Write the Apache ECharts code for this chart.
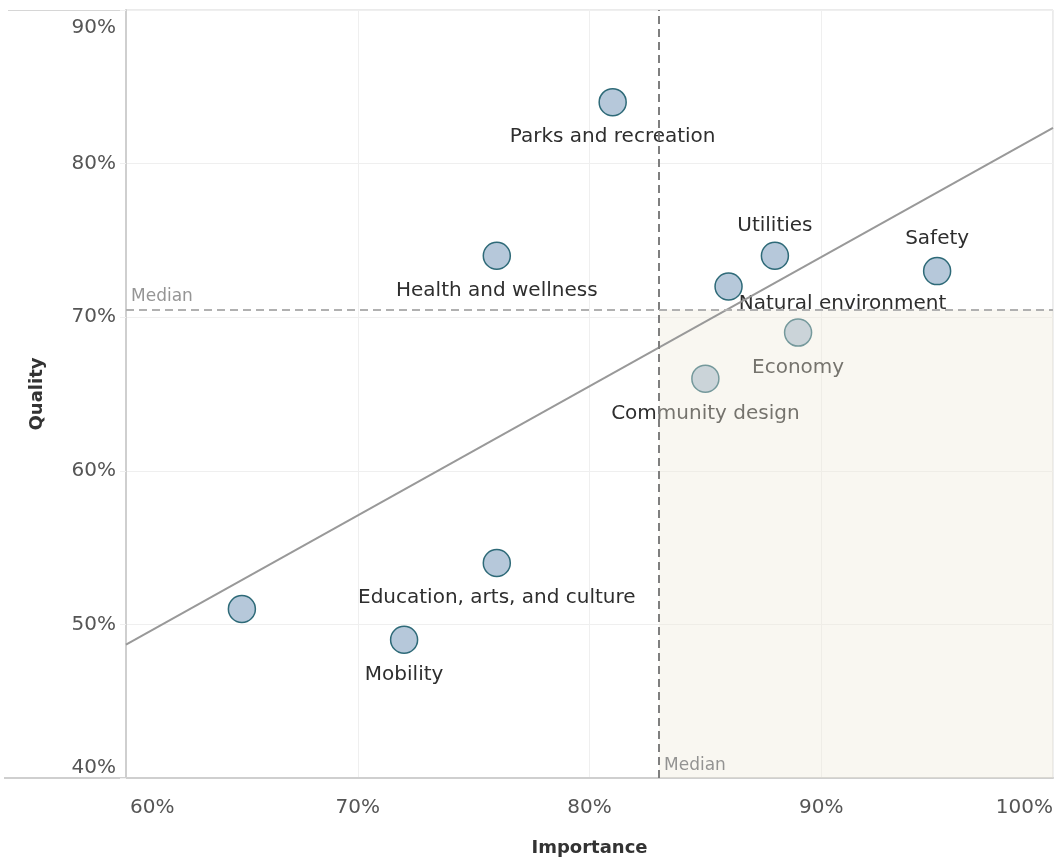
<!DOCTYPE html>
<html>
<head>
<meta charset="utf-8">
<script src="https://cdn.jsdelivr.net/npm/echarts@6/dist/echarts.min.js"></script>
<style>
  html, body { margin: 0; padding: 0; background: #fff; }
  #quadrant-chart { width: 1054px; height: 859px; }
</style>
</head>
<body>
<div id="quadrant-chart"></div>
<script>
  // topics (the first point has no label in the original)
  const topics = ['', 'Mobility', 'Education, arts, and culture', 'Health and wellness',
    'Parks and recreation', 'Community design', 'Natural environment', 'Utilities', 'Economy', 'Safety']
  const importance = [65, 72, 76, 76, 81, 85, 86, 88, 89, 95]
  const quality = [51, 49, 54, 74, 84, 66, 72, 74, 69, 73]
  const xTicks = [60, 70, 80, 90, 100]
  const yTicks = [40, 50, 60, 70, 80, 90]

  const FONT = '"DejaVu Sans", sans-serif'

  // label placement (style only)
  const labelOffset = {
    'Utilities': [0, -30],
    'Safety': [0, -32],
    'Natural environment': [114, 17]
  }

  function median(arr) {
    const s = arr.slice().sort((a, b) => a - b)
    const m = Math.floor(s.length / 2)
    return s.length % 2 ? s[m] : (s[m - 1] + s[m]) / 2
  }

  const medX = median(importance)
  const medY = median(quality)

  // least squares trend
  const n = importance.length
  const mx = importance.reduce((a, b) => a + b, 0) / n
  const my = quality.reduce((a, b) => a + b, 0) / n
  let sxy = 0, sxx = 0
  for (let i = 0; i < n; i++) {
    sxy += (importance[i] - mx) * (quality[i] - my)
    sxx += (importance[i] - mx) * (importance[i] - mx)
  }
  const slope = sxy / sxx
  const trend = x => my + slope * (x - mx)

  const xMin = xTicks[0], xMax = xTicks[xTicks.length - 1]
  const yMin = yTicks[0], yMax = yTicks[yTicks.length - 1]

  const points = topics.map((t, i) => ({
    name: t,
    value: [importance[i], quality[i]],
    label: {
      show: t !== '',
      position: 'inside',
      offset: labelOffset[t] || [0, 35]
    }
  }))

  const myChart = echarts.init(document.getElementById('quadrant-chart'))
  myChart.setOption({
    animation: false,
    textStyle: { fontFamily: FONT },
    grid: {
      left: 126, right: 1, top: 10, bottom: 81,
      outerBoundsMode: 'none',
      show: true, borderColor: '#d6d6d6', borderWidth: 1
    },
    xAxis: {
      type: 'value', min: xMin, max: xMax, interval: 10,
      name: 'Importance', nameLocation: 'middle', nameGap: 61,
      nameTextStyle: { fontFamily: FONT, fontSize: 18, fontWeight: 'bold', color: '#333' },
      axisLine: { show: true, lineStyle: { color: '#cfcfcf', width: 2 } },
      axisTick: { show: false },
      axisLabel: {
        formatter: v => v === xMin ? '{l|' + v + '%}' : v + '%',
        fontFamily: FONT, fontSize: 20, color: '#555', margin: 20,
        alignMinLabel: 'left', alignMaxLabel: 'right',
        rich: { l: { fontFamily: FONT, fontSize: 20, color: '#555', padding: [0, 0, 0, 4] } }
      },
      splitLine: { lineStyle: { color: '#efefef' } }
    },
    yAxis: {
      type: 'value', min: yMin, max: yMax, interval: 10,
      name: 'Quality', nameLocation: 'middle', nameGap: 80, nameRotate: 90,
      nameTextStyle: { fontFamily: FONT, fontSize: 18, fontWeight: 'bold', color: '#333' },
      axisLine: { show: true, lineStyle: { color: '#cfcfcf', width: 2 } },
      axisTick: { show: true, length: 6, lineStyle: { color: '#efefef' } },
      axisLabel: {
        formatter: v => v === yMax ? '{t|' + v + '%}' : v + '%',
        fontFamily: FONT, fontSize: 20, color: '#555', margin: 10,
        verticalAlignMinLabel: 'bottom', verticalAlignMaxLabel: 'top',
        rich: { t: { fontFamily: FONT, fontSize: 20, color: '#555', padding: [8, 0, 0, 0] } }
      },
      splitLine: { lineStyle: { color: '#efefef' } }
    },
    graphic: [
      { type: 'line', shape: { x1: 8, y1: 10.5, x2: 126, y2: 10.5 }, style: { stroke: '#d6d6d6', lineWidth: 1 } },
      { type: 'line', shape: { x1: 4, y1: 778, x2: 126, y2: 778 }, style: { stroke: '#cfcfcf', lineWidth: 2 } }
    ],
    series: [
      {
        name: 'topics',
        type: 'scatter',
        z: 2,
        symbolSize: 27,
        itemStyle: { color: '#b6c8da', borderColor: '#2e6a78', borderWidth: 1.5, opacity: 1 },
        label: { fontFamily: FONT, fontSize: 20, color: '#2e2e2e', formatter: '{b}' },
        data: points
      },
      {
        name: 'quadrant',
        type: 'line',
        z: 5,
        data: [],
        markArea: {
          silent: true,
          z: 5,
          itemStyle: { color: 'rgba(239,233,217,0.37)' },
          data: [[{ coord: [medX, yMin] }, { coord: [xMax, medY] }]]
        }
      },
      {
        name: 'trend',
        type: 'line',
        z: 6,
        showSymbol: false,
        symbol: 'none',
        lineStyle: { color: '#999', width: 2 },
        data: [[xMin, trend(xMin)], [xMax, trend(xMax)]]
      },
      {
        name: 'medians',
        type: 'line',
        z: 7,
        data: [],
        markLine: {
          silent: true,
          z: 7,
          symbol: 'none',
          label: { show: false },
          data: [
            { xAxis: medX, lineStyle: { color: '#7f7f7f', type: [8, 5], width: 2 } },
            { yAxis: medY, lineStyle: { color: '#b0b0b0', type: [8, 5], width: 2 } }
          ]
        }
      },
      {
        name: 'median labels',
        type: 'scatter',
        z: 8,
        symbolSize: 0,
        silent: true,
        label: {
          show: true, formatter: 'Median', position: 'inside', align: 'left',
          fontFamily: FONT, fontSize: 17, color: '#7a7a7a'
        },
        data: [
          { value: [medX, yMin], label: { offset: [5, -12] } },
          { value: [xMin, medY], label: { offset: [5, -13] } }
        ]
      }
    ]
  })
</script>
</body>
</html>
